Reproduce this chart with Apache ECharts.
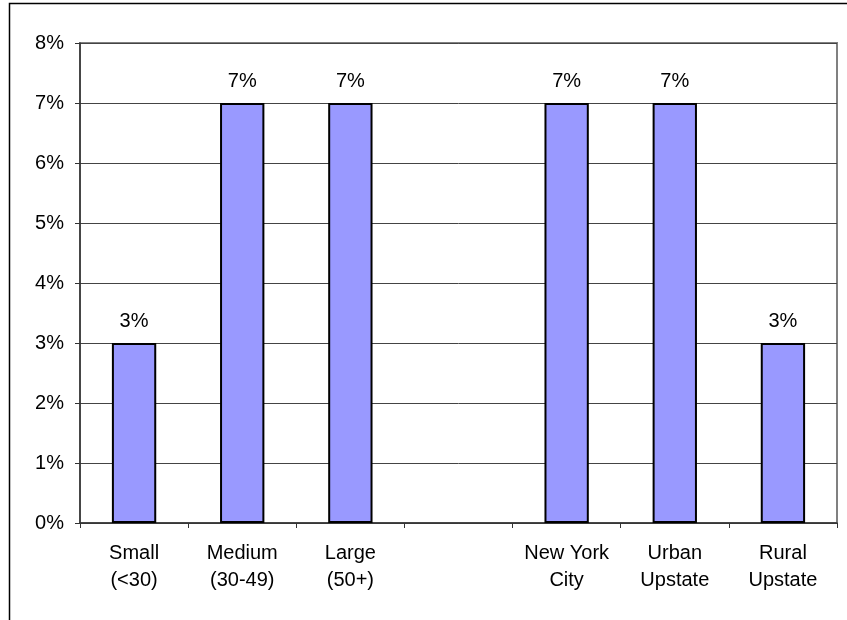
<!DOCTYPE html>
<html>
<head>
<meta charset="utf-8">
<style>
html,body{margin:0;padding:0;background:#fff;}
#chart{width:847px;height:620px;}
</style>
<script src="https://cdn.jsdelivr.net/npm/echarts@6/dist/echarts.min.js"></script>
</head>
<body>
<div id="chart"></div>
<script>
const categories = ['Small\n(<30)', 'Medium\n(30-49)', 'Large\n(50+)', '', 'New York\nCity', 'Urban\nUpstate', 'Rural\nUpstate'];
const values = [3, 7, 7, null, 7, 7, 3];
const yTicks = [0, 1, 2, 3, 4, 5, 6, 7, 8];

const chart = echarts.init(document.getElementById('chart'), null, {renderer: 'canvas'});
const font = 'Liberation Sans, Arial, sans-serif';
chart.setOption({
  animation: false,
  backgroundColor: '#fff',
  graphic: [{
    type: 'rect',
    shape: {x: 9.5, y: 3.5, width: 1000, height: 1000},
    style: {fill: 'none', stroke: '#000', lineWidth: 1.5},
    silent: true
  }],
  grid: {
    left: 80, right: 10, top: 43, bottom: 97,
    show: true, borderColor: '#808080', borderWidth: 2, backgroundColor: 'transparent'
  },
  xAxis: {
    type: 'category',
    data: categories,
    axisLine: {lineStyle: {color: '#333', width: 1.5}},
    axisTick: {show: true, length: 5, lineStyle: {color: '#333'}},
    axisLabel: {color: '#000', fontFamily: font, fontSize: 20, lineHeight: 27, margin: 17, interval: 0}
  },
  yAxis: {
    type: 'value',
    min: yTicks[0], max: yTicks[yTicks.length - 1], interval: 1,
    axisLine: {show: true, lineStyle: {color: '#333', width: 1.5}},
    axisTick: {show: true, length: 5, lineStyle: {color: '#333'}},
    axisLabel: {color: '#000', fontFamily: font, fontSize: 20, formatter: '{value}%', margin: 16},
    splitLine: {show: true, lineStyle: {color: '#444', width: 1}}
  },
  series: [{
    type: 'bar',
    data: values,
    barWidth: '41%',
    itemStyle: {color: '#9999FF', borderColor: '#000', borderWidth: 2},
    label: {show: true, position: 'top', distance: 12, formatter: '{c}%', color: '#000', fontFamily: font, fontSize: 20}
  }]
});
</script>
</body>
</html>
